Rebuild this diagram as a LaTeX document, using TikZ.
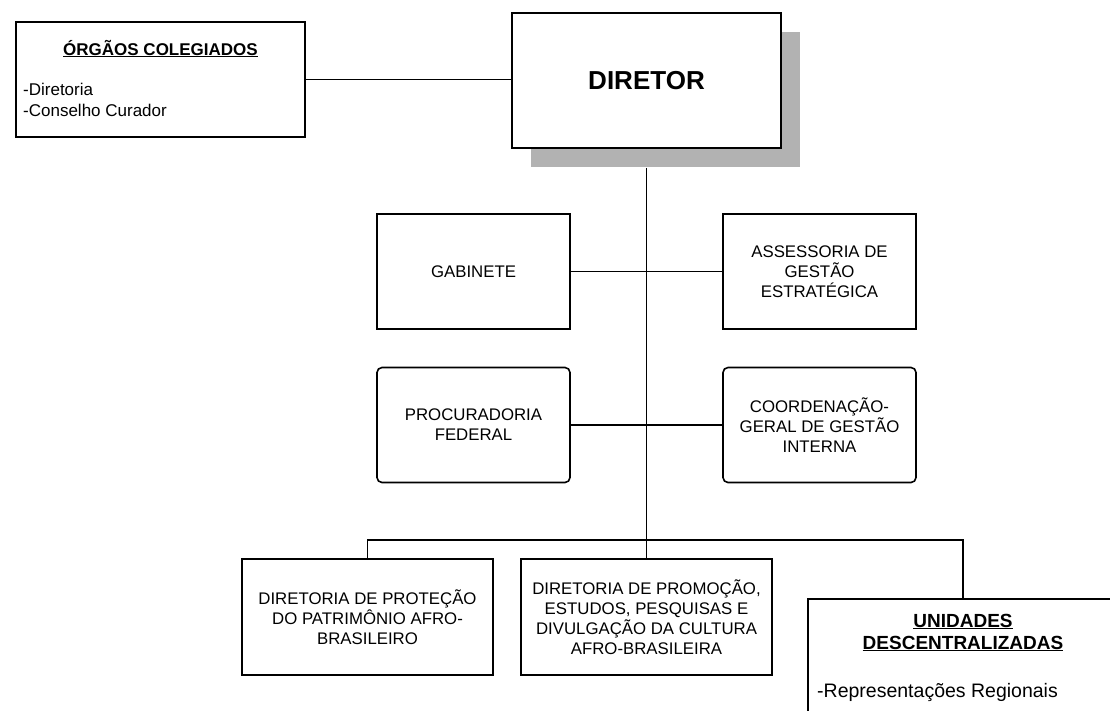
\documentclass[tikz,border=0pt]{standalone}
\usepackage{fontspec}
\setmainfont{Liberation Sans}
\usetikzlibrary{shadows}

\begin{document}
\begin{tikzpicture}[x=1pt, y=-1pt,
	box/.style={draw, line width=1.6pt, inner sep=0pt, align=center, font=\fontsize{16.8}{20}\selectfont},
	unit/.style={box, minimum width=193, minimum height=115},
	bigunit/.style={box, minimum width=251, minimum height=116},
	link/.style={line width=1.5pt}]
	\useasboundingbox (0, 0) rectangle (1110, 710);
	\clip (0, 0) rectangle (1110, 710);
	\node[box, minimum width=269, minimum height=135, font=\fontsize{26}{30}\selectfont\bfseries, drop shadow={shadow xshift=19pt, shadow yshift=-19pt, opacity=1, fill=black!30}, fill=white] (diretor) at (646.5, 80.5) {DIRETOR};
	\node[box, minimum width=289, minimum height=115] (orgaos) at (160.5, 79.5) {};
	\node[anchor=base, font=\fontsize{17}{20}\selectfont\bfseries] (orgaostitulo) at (160.5, 55) {\underline{ÓRGÃOS COLEGIADOS}};
	\node[anchor=base west, align=left, inner sep=0pt, font=\fontsize{17}{21}\selectfont] (orgaoslista) at (23, 116) {-Diretoria\\-Conselho Curador};
	\node[unit] (gab) at (473.5, 271.5) {GABINETE};
	\node[unit] (assess) at (819.5, 271.5) {ASSESSORIA DE\\GESTÃO\\ESTRATÉGICA};
	\node[unit, rounded corners=5pt] (proc) at (473.5, 425) {PROCURADORIA\\FEDERAL};
	\node[unit, rounded corners=5pt] (coord) at (819.5, 425) {COORDENAÇÃO-\\GERAL DE GESTÃO\\INTERNA};
	\node[bigunit] (dprot) at (367.5, 617) {DIRETORIA DE PROTEÇÃO\\DO PATRIMÔNIO AFRO-\\BRASILEIRO};
	\node[bigunit] (dprom) at (646.5, 617) {DIRETORIA DE PROMOÇÃO,\\ESTUDOS, PESQUISAS E\\DIVULGAÇÃO DA CULTURA\\AFRO-BRASILEIRA};
	\node[box, anchor=north, minimum width=310, minimum height=130] (unid) at (963, 598) {};
	\node[anchor=base, align=center, inner sep=0pt, font=\fontsize{19}{22}\selectfont\bfseries] (unidtitulo) at (963, 649) {\underline{UNIDADES}\\\underline{DESCENTRALIZADAS}};
	\node[anchor=base west, inner sep=0pt, font=\fontsize{19.5}{22}\selectfont] (unidlista) at (817, 697) {-Representações Regionais};
	\coordinate (bar) at (646.5, 540);
	\draw[link] (orgaos.east) -- (orgaos.east -| diretor.west);
	\draw[link] ([yshift=-19pt]diretor.south) -- (dprom.north);
	\draw[link] (gab.east) -- (assess.west);
	\draw[link] (proc.east) -- (coord.west);
	\draw[link] (dprot.north) |- (bar) -| (unid.north);
\end{tikzpicture}
\end{document}
